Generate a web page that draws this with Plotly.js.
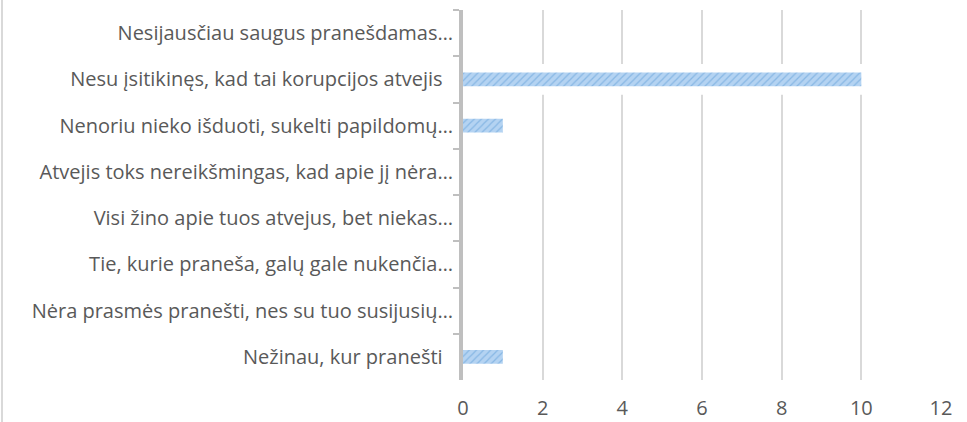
<!DOCTYPE html>
<html><head><meta charset="utf-8">
<script src="https://cdn.plot.ly/plotly-3.0.1.min.js"></script>
<style>
html,body{margin:0;padding:0;background:#fff;}
#frame{position:absolute;left:1px;top:0;width:2px;height:422px;background:#d9d9d9;}
#chart{position:absolute;left:0;top:0;width:967px;height:422px;}
</style></head>
<body>
<div id="chart"></div>
<div id="frame"></div>
<script>
const categories = [
  "Nesijausčiau saugus pranešdamas…",
  "Nesu įsitikinęs, kad tai korupcijos atvejis\u00a0\u00a0",
  "Nenoriu nieko išduoti, sukelti papildomų…",
  "Atvejis toks nereikšmingas, kad apie jį nėra…",
  "Visi žino apie tuos atvejus, bet niekas…",
  "Tie, kurie praneša, galų gale nukenčia…",
  "Nėra prasmės pranešti, nes su tuo susijusių…",
  "Nežinau, kur pranešti\u00a0\u00a0"
];
const values = [0, 10, 1, 0, 0, 0, 0, 1];
const xTicks = [0, 2, 4, 6, 8, 10, 12];

const halo = {
  type: 'bar', orientation: 'h', x: values, y: categories,
  width: 0.58, marker: {color: '#ffffff', line: {color: '#ffffff', width: 4}},
  hoverinfo: 'skip', showlegend: false
};
const bars = {
  type: 'bar', orientation: 'h', x: values, y: categories,
  width: 0.3,
  marker: {
    color: '#b4d3f2',
    line: {width: 0},
    pattern: {shape: '/', bgcolor: '#b4d3f2', fgcolor: '#5b9bd5', size: 5, solidity: 0.25, fillmode: 'overlay'}
  },
  showlegend: false
};
const layout = {
  width: 967, height: 422,
  margin: {l: 463, r: 26, t: 10, b: 42, pad: 0},
  paper_bgcolor: '#ffffff', plot_bgcolor: '#ffffff',
  barmode: 'overlay',
  font: {family: '"Open Sans", sans-serif', size: 20, color: '#595959'},
  xaxis: {
    range: [0, 12], tickvals: xTicks, ticktext: xTicks.map(String),
    tickfont: {size: 20},
    showgrid: true, gridcolor: '#d9d9d9', gridwidth: 2,
    zeroline: false, showline: false, ticks: '',
    ticklabelstandoff: 14, fixedrange: true
  },
  yaxis: {
    type: 'category', autorange: 'reversed',
    showline: true, linecolor: '#bfbfbf', linewidth: 4,
    ticks: 'outside', tickson: 'boundaries', ticklen: 6, tickwidth: 2, tickcolor: '#bfbfbf',
    showgrid: false, zeroline: false, ticklabelstandoff: 2, fixedrange: true
  }
};
Plotly.newPlot('chart', [halo, bars], layout, {staticPlot: true, displayModeBar: false});
</script>
</body></html>
